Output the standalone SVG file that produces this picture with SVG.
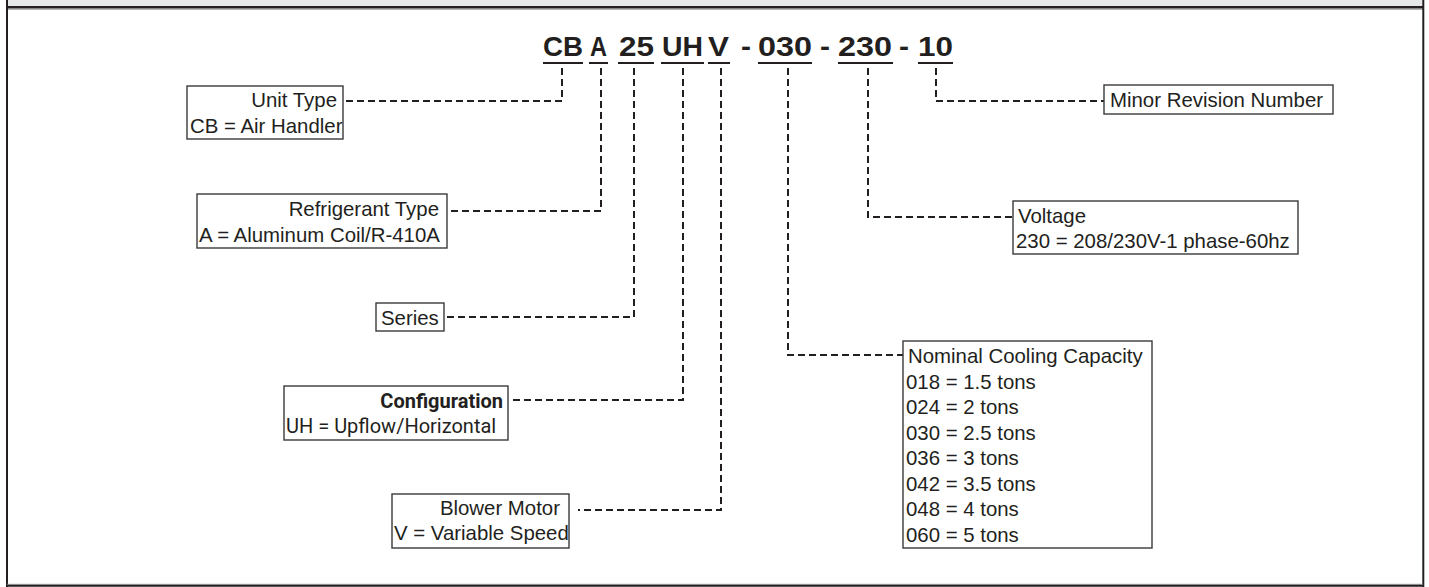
<svg xmlns="http://www.w3.org/2000/svg" width="1429" height="587" viewBox="0 0 1429 587">
<style>
.t{font-family:"Liberation Sans",Arial,sans-serif;font-size:20.4px;fill:#231f20}
.r{font-family:Roboto,"Liberation Sans",sans-serif;font-size:20px;fill:#231f20}
.h{font-family:"Liberation Sans",Arial,sans-serif;font-size:28px;font-weight:bold;fill:#231f20}
.box{fill:#fff;stroke:#3a3a3a;stroke-width:1.4}
.ul{stroke:#231f20;stroke-width:2}
.c{fill:none;stroke:#231f20;stroke-width:2;stroke-dasharray:7 4}
</style>
<rect x="0" y="0" width="1429" height="587" fill="#fff"/>
<g id="frame">
<rect x="7" y="0" width="1416" height="7" fill="#e6e7e8"/>
<line x1="7" y1="9.3" x2="1423" y2="9.3" stroke="#a0a0a0" stroke-width="1"/>
<line x1="6" y1="7.3" x2="1424" y2="7.3" stroke="#231f20" stroke-width="2.4"/>
<line x1="7" y1="0" x2="7" y2="587" stroke="#231f20" stroke-width="2"/>
<line x1="1423.3" y1="0" x2="1423.3" y2="587" stroke="#231f20" stroke-width="2"/>
<line x1="7" y1="584.3" x2="1423" y2="584.3" stroke="#a0a0a0" stroke-width="1"/>
<line x1="6" y1="585.8" x2="1424" y2="585.8" stroke="#231f20" stroke-width="2"/>
</g>
<g id="model-code">
<text class="h" x="543" y="56" textLength="40" lengthAdjust="spacingAndGlyphs">CB</text>
<text class="h" x="590" y="56" textLength="17" lengthAdjust="spacingAndGlyphs">A</text>
<text class="h" x="619" y="56" textLength="35" lengthAdjust="spacingAndGlyphs">25</text>
<text class="h" x="662" y="56" textLength="41" lengthAdjust="spacingAndGlyphs">UH</text>
<text class="h" x="708" y="56" textLength="21" lengthAdjust="spacingAndGlyphs">V</text>
<text class="h" x="741" y="56" textLength="10" lengthAdjust="spacingAndGlyphs">-</text>
<text class="h" x="758" y="56" textLength="54" lengthAdjust="spacingAndGlyphs">030</text>
<text class="h" x="820" y="56" textLength="10" lengthAdjust="spacingAndGlyphs">-</text>
<text class="h" x="838" y="56" textLength="54" lengthAdjust="spacingAndGlyphs">230</text>
<text class="h" x="899" y="56" textLength="10" lengthAdjust="spacingAndGlyphs">-</text>
<text class="h" x="918" y="56" textLength="35" lengthAdjust="spacingAndGlyphs">10</text>
<line class="ul" x1="543" y1="63" x2="583" y2="63"/>
<line class="ul" x1="589" y1="63" x2="608" y2="63"/>
<line class="ul" x1="618" y1="63" x2="654" y2="63"/>
<line class="ul" x1="661" y1="63" x2="704" y2="63"/>
<line class="ul" x1="708" y1="63" x2="730" y2="63"/>
<line class="ul" x1="758" y1="63" x2="812" y2="63"/>
<line class="ul" x1="838" y1="63" x2="893" y2="63"/>
<line class="ul" x1="918" y1="63" x2="953" y2="63"/>
</g>
<g id="connectors">
<path class="c" d="M562 68 V101 H344"/>
<path class="c" d="M601 68 V211 H449"/>
<path class="c" d="M634 68 V317 H445"/>
<path class="c" d="M683 68 V400 H513"/>
<path class="c" d="M721 68 V510 H578"/>
<path class="c" d="M788 68 V355 H903"/>
<path class="c" d="M868 68 V217 H1013"/>
<path class="c" d="M936 68 V101 H1104"/>
</g>
<g id="unit-type">
<rect class="box" x="187" y="86" width="156" height="53"/>
<text class="t" x="337" y="107" text-anchor="end">Unit Type</text>
<text class="t" x="190" y="133">CB = Air Handler</text>
</g>
<g id="refrigerant-type">
<rect class="box" x="197" y="194" width="250" height="54"/>
<text class="t" x="439" y="216" text-anchor="end">Refrigerant Type</text>
<text class="t" x="199" y="242">A = Aluminum Coil/R-410A</text>
</g>
<g id="series">
<rect class="box" x="376" y="303" width="68" height="28"/>
<text class="t" x="381" y="325">Series</text>
</g>
<g id="configuration">
<rect class="box" x="284" y="386" width="224" height="54"/>
<text class="r" x="503" y="408" text-anchor="end" font-weight="bold">Configuration</text>
<text class="r" x="286" y="433">UH = Upflow/Horizontal</text>
</g>
<g id="blower-motor">
<rect class="box" x="392" y="494" width="177" height="54"/>
<text class="t" x="560" y="515" text-anchor="end">Blower Motor</text>
<text class="t" x="394" y="540">V = Variable Speed</text>
</g>
<g id="minor-revision">
<rect class="box" x="1104" y="85" width="229" height="29"/>
<text class="t" x="1110" y="107">Minor Revision Number</text>
</g>
<g id="voltage">
<rect class="box" x="1013" y="201" width="285" height="53"/>
<text class="t" x="1018" y="223">Voltage</text>
<text class="t" x="1016" y="248">230 = 208/230V-1 phase-60hz</text>
</g>
<g id="nominal-cooling">
<rect class="box" x="903" y="341" width="249" height="207"/>
<text class="t" x="908" y="363">Nominal Cooling Capacity</text>
<text class="t" x="906" y="389">018 = 1.5 tons</text>
<text class="t" x="906" y="414">024 = 2 tons</text>
<text class="t" x="906" y="440">030 = 2.5 tons</text>
<text class="t" x="906" y="465">036 = 3 tons</text>
<text class="t" x="906" y="491">042 = 3.5 tons</text>
<text class="t" x="906" y="516">048 = 4 tons</text>
<text class="t" x="906" y="542">060 = 5 tons</text>
</g>
</svg>
